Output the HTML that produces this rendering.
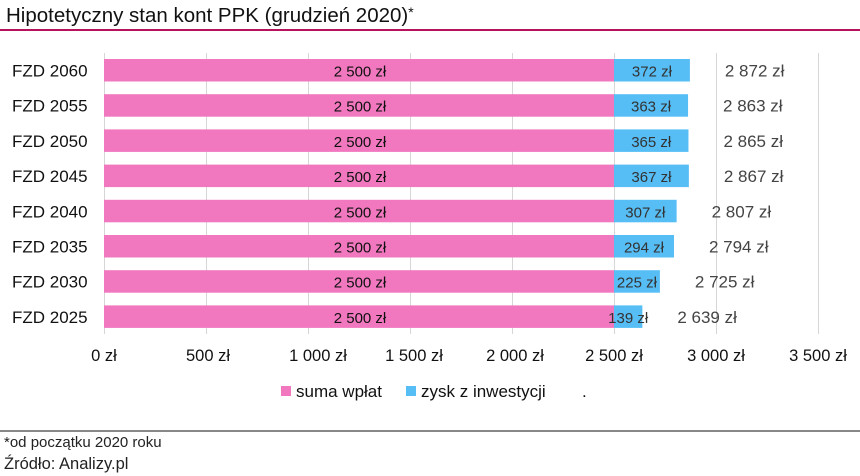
<!DOCTYPE html>
<html><head><meta charset="utf-8"><style>
body{margin:0;width:860px;height:476px;background:#fff;font-family:"Liberation Sans",sans-serif;position:relative;overflow:hidden;color:#111}
.a{position:absolute;white-space:nowrap}
</style></head><body>
<div class="a" style="left:6px;top:4px;font-size:20.5px;color:#111">Hipotetyczny stan kont PPK (grudzień 2020)<span style="font-size:14px;vertical-align:top">*</span></div>
<div class="a" style="left:0;top:29px;width:860px;height:2px;background:#b5135b"></div>
<svg class="a" style="left:0;top:0" width="860" height="476">
<g stroke="#d6d6d6" stroke-width="1">
<line x1="104.5" y1="53" x2="104.5" y2="334"/><line x1="206.5" y1="53" x2="206.5" y2="334"/><line x1="308.5" y1="53" x2="308.5" y2="334"/><line x1="410.5" y1="53" x2="410.5" y2="334"/><line x1="512.5" y1="53" x2="512.5" y2="334"/><line x1="614.5" y1="53" x2="614.5" y2="334"/><line x1="716.5" y1="53" x2="716.5" y2="334"/><line x1="818.5" y1="53" x2="818.5" y2="334"/>
</g>
<g font-family="Liberation Sans, sans-serif" font-size="17">
<g id="rows"></g>
</g>
<g font-family="Liberation Sans, sans-serif" font-size="16.5" fill="#111" text-anchor="middle">
<text x="104" y="361">0 zł</text><text x="208" y="361">500 zł</text><text x="318" y="361">1 000 zł</text><text x="414" y="361">1 500 zł</text><text x="515" y="361">2 000 zł</text><text x="614" y="361">2 500 zł</text><text x="716" y="361">3 000 zł</text><text x="818" y="361">3 500 zł</text>
</g>
<rect x="281" y="386" width="10" height="10" fill="#f178bf"/>
<text x="296" y="397" font-family="Liberation Sans, sans-serif" font-size="17" fill="#111">suma wpłat</text>
<rect x="406" y="386" width="10" height="10" fill="#56bdf5"/>
<text x="421" y="397" font-family="Liberation Sans, sans-serif" font-size="17" fill="#111">zysk z inwestycji</text>
<text x="582" y="397" font-family="Liberation Sans, sans-serif" font-size="17" fill="#111">.</text>
<line x1="0" y1="431" x2="860" y2="431" stroke="#111" stroke-width="1"/>
</svg>
<div class="a" style="left:4px;top:434px;font-size:15px;color:#222">*od początku 2020 roku</div>
<div class="a" style="left:4px;top:455px;font-size:16.5px;color:#222">Źródło: Analizy.pl</div>
<script>
var d=[["2060",372],["2055",363],["2050",365],["2045",367],["2040",307],["2035",294],["2030",225],["2025",139]];
var s="";
d.forEach(function(r,i){
 var y=59+35.2*i, w=r[1]*0.204, end=614+w, cy=y+17.5;
 s+='<text x="12" y="'+cy+'" fill="#111">FZD '+r[0]+'</text>';
 s+='<rect x="104" y="'+y+'" width="510" height="22.5" fill="#f178bf"/>';
 s+='<rect x="614" y="'+y+'" width="'+w+'" height="22.5" fill="#56bdf5"/>';
 s+='<text x="360" y="'+cy+'" text-anchor="middle" fill="#111" font-size="15">2 500 zł</text>';
 s+='<text x="'+(614+w/2)+'" y="'+cy+'" text-anchor="middle" fill="#333" font-size="15">'+r[1]+' zł</text>';
 var t=2500+r[1]; var ts=String(t); ts=ts[0]+" "+ts.slice(1);
 s+='<text x="'+(end+35)+'" y="'+cy+'" fill="#444">'+ts+' zł</text>';
});
document.getElementById("rows").innerHTML=s;
</script>
</body></html>
